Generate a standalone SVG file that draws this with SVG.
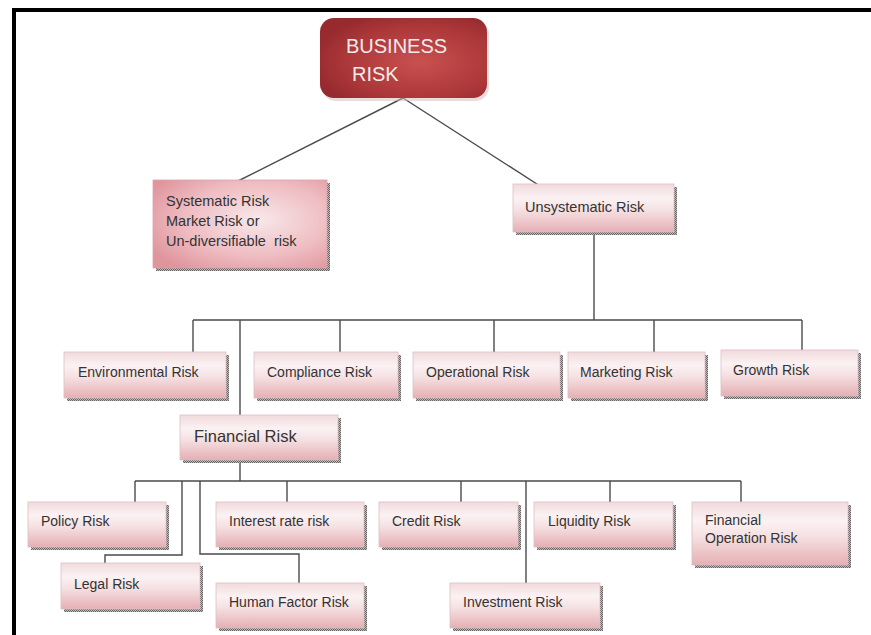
<svg xmlns="http://www.w3.org/2000/svg" width="871" height="635" viewBox="0 0 871 635">
<defs>
<linearGradient id="pink" x1="0" y1="0" x2="0" y2="1">
<stop offset="0" stop-color="#f1dadd"/>
<stop offset="0.3" stop-color="#fbf2f3"/>
<stop offset="0.55" stop-color="#f5e0e2"/>
<stop offset="1" stop-color="#e5afb4"/>
</linearGradient>
<radialGradient id="sysg" cx="0.6" cy="0.45" r="0.7">
<stop offset="0" stop-color="#f8e8ea"/>
<stop offset="0.6" stop-color="#eebcc1"/>
<stop offset="1" stop-color="#e0959d"/>
</radialGradient>
<radialGradient id="redg" cx="0.6" cy="0.55" r="0.65">
<stop offset="0" stop-color="#c9504f"/>
<stop offset="0.7" stop-color="#ab3739"/>
<stop offset="1" stop-color="#962a2e"/>
</radialGradient>
<pattern id="dots" width="2" height="2" patternUnits="userSpaceOnUse">
<rect width="2" height="2" fill="#c0b8b8"/>
<rect width="1" height="1" fill="#666"/>
<rect x="1" y="1" width="1" height="1" fill="#666"/>
</pattern>
</defs>
<style>
.box{fill:url(#pink);stroke:#dcc0c3;stroke-width:0.8}
.sh{fill:url(#dots)}
.t{font-family:"Liberation Sans",Arial,sans-serif;font-size:14px;fill:#333333;white-space:pre}
.ln{fill:none;stroke:#4a4a4a;stroke-width:1.4}
</style>
<rect width="871" height="635" fill="#ffffff"/>
<path d="M14 635 V10 H871" fill="none" stroke="#000" stroke-width="4"/>

<g id="connectors" class="ln">
<path d="M403 98 L236 182"/>
<path d="M403 98 L540 186"/>
<path d="M594 234 V320"/>
<path d="M193 320 H802"/>
<path d="M193 320 V352"/>
<path d="M240 320 V415"/>
<path d="M340 320 V352"/>
<path d="M494 320 V352"/>
<path d="M654 320 V352"/>
<path d="M802 320 V350"/>
<path d="M240 461 V481"/>
<path d="M135 481 H741"/>
<path d="M135 481 V502"/>
<path d="M182 481 V555 H105 V563"/>
<path d="M200 481 V554 H299 V583"/>
<path d="M287 481 V502"/>
<path d="M461 481 V502"/>
<path d="M526 481 V583"/>
<path d="M610 481 V502"/>
<path d="M741 481 V502"/>
</g>

<g id="business">
<rect x="322" y="21" width="167" height="80" rx="14" fill="#d9b8b8" opacity="0.5"/>
<rect x="320" y="18" width="167" height="80" rx="14" fill="url(#redg)"/>
<text x="346" y="53" font-family="Liberation Sans,Arial,sans-serif" font-size="20" fill="#f4eaea">BUSINESS</text>
<text x="352" y="81" font-family="Liberation Sans,Arial,sans-serif" font-size="20" fill="#f4eaea">RISK</text>
</g>

<g id="systematic">
<rect class="sh" x="156" y="183" width="174" height="88"/>
<rect x="153" y="180" width="174" height="88" fill="url(#sysg)" stroke="#dca4aa" stroke-width="0.8"/>
<text class="t" x="166" y="206" style="font-size:14.5px">Systematic Risk</text>
<text class="t" x="166" y="226" style="font-size:14.5px">Market Risk or</text>
<text class="t" x="166" y="246" style="font-size:14.5px" xml:space="preserve">Un-diversifiable  risk</text>
</g>

<g id="unsystematic">
<rect class="sh" x="516" y="187" width="161" height="48"/>
<rect class="box" x="513" y="184" width="161" height="48"/>
<text class="t" x="525" y="212" style="font-size:14.5px">Unsystematic Risk</text>
</g>

<g id="environmental">
<rect class="sh" x="67" y="355" width="162" height="46"/>
<rect class="box" x="64" y="352" width="162" height="46"/>
<text class="t" x="78" y="377">Environmental Risk</text>
</g>
<g id="compliance">
<rect class="sh" x="257" y="355" width="144" height="46"/>
<rect class="box" x="254" y="352" width="144" height="46"/>
<text class="t" x="267" y="377">Compliance Risk</text>
</g>
<g id="operational">
<rect class="sh" x="416" y="355" width="147" height="46"/>
<rect class="box" x="413" y="352" width="147" height="46"/>
<text class="t" x="426" y="377">Operational Risk</text>
</g>
<g id="marketing">
<rect class="sh" x="571" y="355" width="137" height="46"/>
<rect class="box" x="568" y="352" width="137" height="46"/>
<text class="t" x="580" y="377">Marketing Risk</text>
</g>
<g id="growth">
<rect class="sh" x="724" y="353" width="137" height="46"/>
<rect class="box" x="721" y="350" width="137" height="46"/>
<text class="t" x="733" y="375">Growth Risk</text>
</g>

<g id="financial">
<rect class="sh" x="183" y="418" width="158" height="45"/>
<rect class="box" x="180" y="415" width="158" height="45"/>
<text class="t" x="194" y="442" style="font-size:16.5px">Financial Risk</text>
</g>

<g id="policy">
<rect class="sh" x="31" y="505" width="138" height="45"/>
<rect class="box" x="28" y="502" width="138" height="45"/>
<text class="t" x="41" y="526">Policy Risk</text>
</g>
<g id="legal">
<rect class="sh" x="64" y="566" width="139" height="46"/>
<rect class="box" x="61" y="563" width="139" height="46"/>
<text class="t" x="74" y="589">Legal Risk</text>
</g>
<g id="interest">
<rect class="sh" x="219" y="505" width="148" height="45"/>
<rect class="box" x="216" y="502" width="148" height="45"/>
<text class="t" x="229" y="526">Interest rate risk</text>
</g>
<g id="humanfactor">
<rect class="sh" x="219" y="586" width="148" height="45"/>
<rect class="box" x="216" y="583" width="148" height="45"/>
<text class="t" x="229" y="607">Human Factor Risk</text>
</g>
<g id="credit">
<rect class="sh" x="382" y="505" width="139" height="45"/>
<rect class="box" x="379" y="502" width="139" height="45"/>
<text class="t" x="392" y="526">Credit Risk</text>
</g>
<g id="investment">
<rect class="sh" x="453" y="586" width="150" height="45"/>
<rect class="box" x="450" y="583" width="150" height="45"/>
<text class="t" x="463" y="607">Investment Risk</text>
</g>
<g id="liquidity">
<rect class="sh" x="537" y="505" width="139" height="45"/>
<rect class="box" x="534" y="502" width="139" height="45"/>
<text class="t" x="548" y="526">Liquidity Risk</text>
</g>
<g id="finop">
<rect class="sh" x="695" y="505" width="156" height="63"/>
<rect class="box" x="692" y="502" width="156" height="63"/>
<text class="t" x="705" y="525">Financial</text>
<text class="t" x="705" y="543">Operation Risk</text>
</g>
</svg>
